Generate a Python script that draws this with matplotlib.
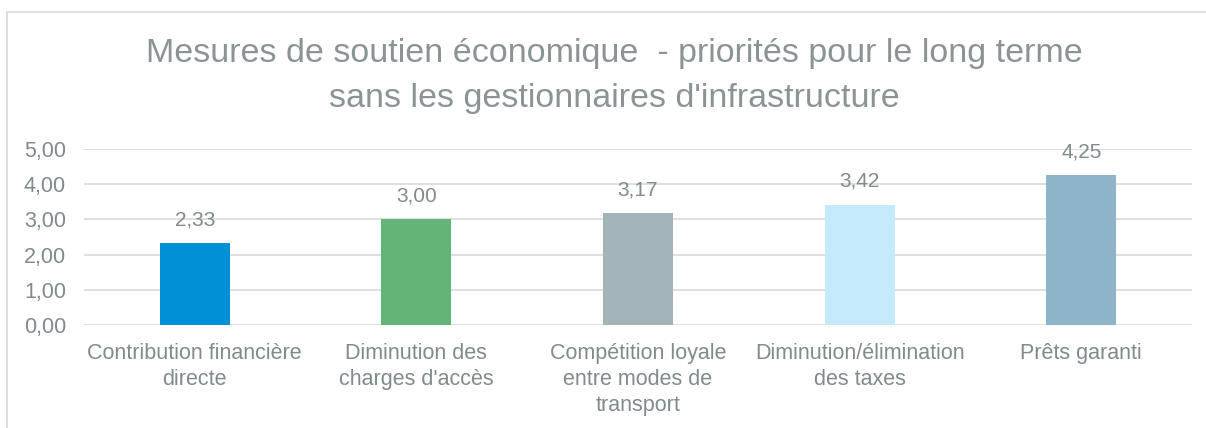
import matplotlib.pyplot as plt
from matplotlib.patches import Rectangle

categories = [
    "Contribution financière\ndirecte",
    "Diminution des\ncharges d'accès",
    "Compétition loyale\nentre modes de\ntransport",
    "Diminution/élimination\ndes taxes",
    "Prêts garanti",
]
values = [2.33, 3.00, 3.17, 3.42, 4.25]
colors = ["#0090D5", "#63B476", "#A2B4BA", "#C4EAFB", "#8DB4C8"]
yticks = [0, 1, 2, 3, 4, 5]

title = ("Mesures de soutien économique  - priorités pour le long terme\n"
         "sans les gestionnaires d'infrastructure")

text_color = "#7F8B8D"
plt.rcParams['font.family'] = ['Liberation Sans', 'DejaVu Sans']

fig = plt.figure(figsize=(12.06, 4.28), dpi=100)
fig.patches.append(Rectangle((7 / 1206, -0.1), 1.2, 1 - 12 / 428 + 0.1,
                             transform=fig.transFigure, fill=False,
                             edgecolor="#D9D9D9", linewidth=1.2))
ax = fig.add_axes([84 / 1206, 1 - 325 / 428, 1108 / 1206, 176 / 428])

x = range(len(categories))
bars = ax.bar(x, values, width=0.315, color=colors, zorder=3)
for xi, v in zip(x, values):
    ax.annotate(f"{v:.2f}".replace(".", ","), (xi, v), xytext=(0, 10),
                textcoords="offset points", ha="center", va="bottom",
                fontsize=15, color=text_color)

ax.set_xlim(-0.5, len(categories) - 0.5)
ax.set_ylim(0, 5)
ax.set_yticks(yticks)
ax.set_yticklabels([f"{t:.2f}".replace(".", ",") for t in yticks])
ax.set_xticks(list(x))
ax.set_xticklabels(categories, linespacing=1.3)
ax.tick_params(length=0, labelsize=15.5, labelcolor=text_color)
ax.tick_params(axis="y", pad=13)
ax.tick_params(axis="x", pad=13)
ax.grid(axis="y", color="#D9D9D9", linewidth=1.2, zorder=0)
for s in ax.spines.values():
    s.set_visible(False)

fig.text(0.5 + 11 / 1206, 1 - 76 / 428, title, ha="center", va="center",
         fontsize=24.5, color="#8A9496", linespacing=1.55)

fig.savefig("out.png", dpi=100)
